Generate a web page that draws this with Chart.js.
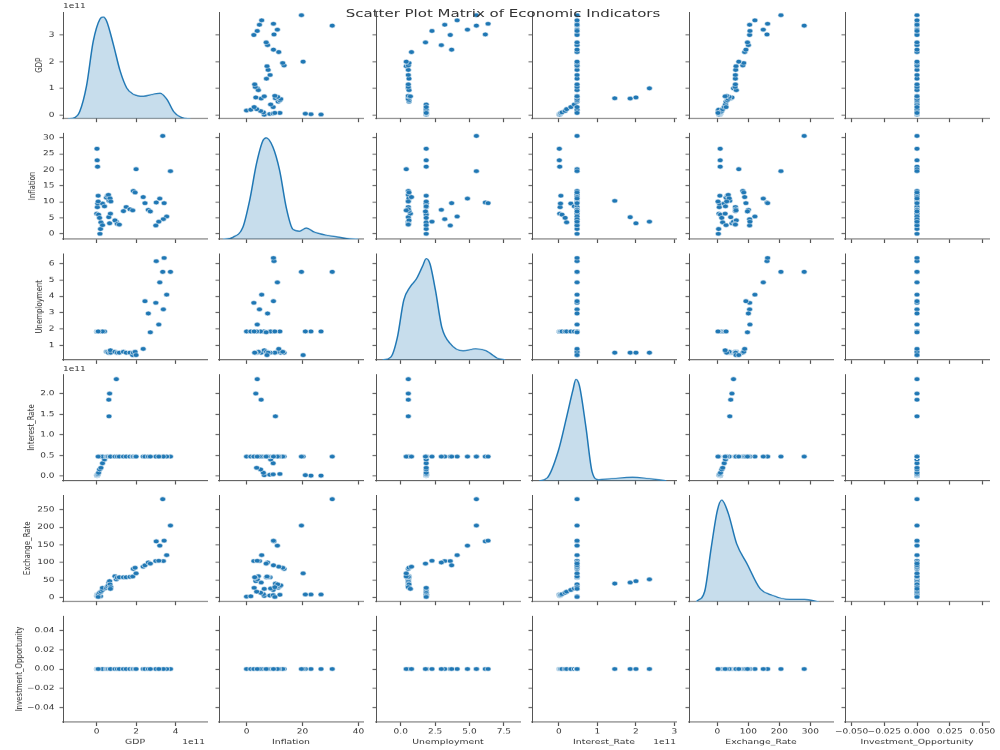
<!DOCTYPE html>
<html><head><meta charset="utf-8">
<script src="https://cdn.jsdelivr.net/npm/chart.js@4.4.0/dist/chart.umd.min.js"></script>
<style>
html,body{margin:0;padding:0;background:#fff;overflow:hidden;width:1000px;height:750px;}
#fig{position:absolute;left:0;top:0;width:1000px;height:1000px;transform:scaleY(0.75);transform-origin:0 0;}
#fig canvas{position:absolute;}
.txt{position:absolute;font-family:"DejaVu Sans",sans-serif;color:#333;white-space:nowrap;}
</style></head><body><div id="fig"></div>
<script>
// ---------------- DATA ----------------
const variables = ['GDP','Inflation','Unemployment','Interest_Rate','Exchange_Rate','Investment_Opportunity'];

const gdp = [0.02e11,0.03e11,0.05e11,0.17e11,0.20e11,0.01e11,0.04e11,0.06e11,0.08e11,0.10e11,0.15e11,0.22e11,0.30e11,0.40e11,0.30e11,0.08e11,
  0.63e11,0.62e11,0.66e11,1.00e11,
  0.50e11,0.55e11,0.60e11,0.68e11,0.72e11,0.70e11,0.93e11,1.05e11,1.15e11,1.36e11,1.50e11,1.69e11,1.83e11,1.86e11,1.95e11,2.00e11,2.36e11,
  3.35e11,3.74e11,3.02e11,3.42e11,3.20e11,3.55e11,3.38e11,3.00e11,3.15e11,2.45e11,2.62e11,2.72e11];
const inflation = [26.6,23.0,21.0,0.0,1.5,6.3,8.3,9.5,11.9,6.0,5.0,3.6,9.5,8.6,2.7,10.1,
  10.3,5.2,3.3,3.8,
  11.3,11.9,12.2,11.1,10.1,6.3,4.2,3.1,2.9,7.1,8.4,7.7,7.3,13.4,12.9,20.2,11.5,
  30.6,19.6,9.8,9.6,11.0,5.4,4.6,2.6,3.8,9.6,7.5,7.0];
const unemployment = [1.85,1.85,1.85,1.85,1.85,1.85,1.85,1.85,1.85,1.85,1.85,1.85,1.85,1.85,1.85,1.85,
  0.55,0.55,0.55,0.55,
  0.6,0.6,0.55,0.6,0.55,0.7,0.6,0.55,0.55,0.6,0.55,0.55,0.4,0.55,0.6,0.4,0.78,
  5.5,5.5,6.15,6.35,4.85,4.1,3.2,3.6,2.27,3.7,2.95,1.8];
const interestRate = [0.01e11,0.01e11,0.02e11,0.47e11,0.47e11,0.02e11,0.03e11,0.04e11,0.05e11,0.08e11,0.16e11,0.20e11,0.31e11,0.40e11,0.47e11,0.47e11,
  1.45e11,1.85e11,2.0e11,2.35e11,
  0.47e11,0.47e11,0.47e11,0.47e11,0.47e11,0.47e11,0.47e11,0.47e11,0.47e11,0.47e11,0.47e11,0.47e11,0.47e11,0.47e11,0.47e11,0.47e11,0.47e11,
  0.47e11,0.47e11,0.47e11,0.47e11,0.47e11,0.47e11,0.47e11,0.47e11,0.47e11,0.47e11,0.47e11,0.47e11];
const exchangeRate = [9,9,9,3,4,5,6,7,8,10,14,17,22,26,28,2,
  40,43,47,52,
  28,32,35,38,30,25,61,57,58,58,58,59,60,82,85,69,88,
  280,205,160,162,148,121,104,104,105,92,100,97];
const investment = [0,0,0,0,0,0,0,0,0,0,0,0,0,0,0,0,
  0,0,0,0,
  0,0,0,0,0,0,0,0,0,0,0,0,0,0,0,0,0,
  0,0,0,0,0,0,0,0,0,0,0,0];

// KDE curves (relative density, peak = 1)
const gdpKdeX = [-1.45e11,-1.1e11,-0.85e11,-0.51e11,-0.17e11,0.17e11,0.34e11,0.51e11,0.85e11,1.19e11,1.53e11,1.86e11,2.37e11,2.88e11,3.22e11,3.56e11,3.9e11,4.32e11,4.75e11];
const gdpKdeY = [0,0.01,0.07,0.32,0.76,0.98,1.0,0.96,0.73,0.47,0.30,0.24,0.22,0.24,0.25,0.19,0.07,0.01,0];
const inflKdeX = [-8.5,-4.9,-1.3,1.07,3.5,5.8,7.0,9.4,11.8,14.2,16.5,18.9,21.3,24.3,28.5,33.2,36.8,40];
const inflKdeY = [0,0.02,0.12,0.38,0.74,0.97,1.0,0.91,0.68,0.31,0.1,0.08,0.11,0.07,0.04,0.02,0.005,0];
const unempKdeX = [-1.32,-0.71,-0.25,0.22,0.68,1.14,1.6,1.85,2.12,2.52,2.99,3.61,4.53,5.45,6.23,7.0,7.6];
const unempKdeY = [0,0.03,0.22,0.59,0.72,0.80,0.93,1.0,0.95,0.69,0.32,0.16,0.09,0.11,0.09,0.02,0];
const irKdeX = [-0.51e11,-0.30e11,-0.02e11,0.20e11,0.36e11,0.44e11,0.53e11,0.70e11,0.86e11,1.03e11,1.36e11,1.91e11,2.35e11,2.79e11];
const irKdeY = [0,0.03,0.29,0.63,0.89,1.0,0.94,0.53,0.09,0.01,0.02,0.035,0.02,0];
const erKdeX = [-68,-41,-20,0,14,35,62,96,137,178,233,281,328];
const erKdeY = [0,0.1,0.53,0.9,1.0,0.87,0.57,0.37,0.13,0.06,0.02,0.02,0];

// tick values and labels
const gdpXTicks = [0,2e11,4e11], gdpXLabels = ['0','2','4'];
const gdpYTicks = [0,1e11,2e11,3e11], gdpYLabels = ['0','1','2','3'];
const inflXTicks = [0,20,40], inflXLabels = ['0','20','40'];
const inflYTicks = [0,5,10,15,20,25,30], inflYLabels = ['0','5','10','15','20','25','30'];
const unempXTicks = [0,2.5,5,7.5], unempXLabels = ['0.0','2.5','5.0','7.5'];
const unempYTicks = [1,2,3,4,5,6], unempYLabels = ['1','2','3','4','5','6'];
const irXTicks = [0,1e11,2e11,3e11], irXLabels = ['0','1','2','3'];
const irYTicks = [0,0.5e11,1e11,1.5e11,2e11], irYLabels = ['0.0','0.5','1.0','1.5','2.0'];
const erXTicks = [0,100,200,300], erXLabels = ['0','100','200','300'];
const erYTicks = [0,50,100,150,200,250], erYLabels = ['0','50','100','150','200','250'];
const invXTicks = [-0.05,-0.025,0,0.025,0.05], invXLabels = ['\u22120.050','\u22120.025','0.000','0.025','0.050'];
const invYTicks = [-0.04,-0.02,0,0.02,0.04], invYLabels = ['\u22120.04','\u22120.02','0.00','0.02','0.04'];

// ---------------- CONFIG ----------------
const cols = [gdp, inflation, unemployment, interestRate, exchangeRate, investment];
const kdeX = [gdpKdeX, inflKdeX, unempKdeX, irKdeX, erKdeX, null];
const kdeY = [gdpKdeY, inflKdeY, unempKdeY, irKdeY, erKdeY, null];
const xTicks = [gdpXTicks, inflXTicks, unempXTicks, irXTicks, erXTicks, invXTicks];
const xLabels = [gdpXLabels, inflXLabels, unempXLabels, irXLabels, erXLabels, invXLabels];
const yTicks = [gdpYTicks, inflYTicks, unempYTicks, irYTicks, erYTicks, invYTicks];
const yLabels = [gdpYLabels, inflYLabels, unempYLabels, irYLabels, erYLabels, invYLabels];
const xRange = [[-1.70e11,5.59e11],[-9.86,41.6],[-1.80,8.67],[-0.70e11,3.04e11],[-91.6,372.9],[-0.055,0.055]];
const yRange = [[-0.13e11,3.86e11],[-1.7,31.6],[0.1,6.62],[-0.115e11,2.47e11],[-11,292],[-0.055,0.055]];

const colLeft = [63, 219, 376, 532, 689, 845];
const rowTop = [16, 177, 338, 499, 660, 821];
const panelW = 144, panelH = 142;
const padL = 60, padT = 14, padR = 36, padB = 40;
const yTitlePad = [30.7, 24.4, 31.4, 23.4, 19.4, 11.4];

const FONT = '"DejaVu Sans", sans-serif';
const TXT = '#333';
const AXC = '#555';
const BLUE = '#1f77b4';

const fig = document.getElementById('fig');
Chart.defaults.font.family = FONT;

function makePanel(r, c) {
  const cv = document.createElement('canvas');
  const W = padL + panelW + padR, H = padT + panelH + padB;
  cv.width = W; cv.height = H;
  cv.style.left = (colLeft[c] - padL) + 'px';
  cv.style.top = (rowTop[r] - padT) + 'px';
  cv.style.width = W + 'px'; cv.style.height = H + 'px';
  fig.appendChild(cv);

  const datasets = [];
  const scales = {
    x: {
      type: 'linear', position: 'bottom', min: xRange[c][0], max: xRange[c][1],
      afterBuildTicks: s => { s.ticks = xTicks[c].map(v => ({value: v})); },
      afterFit: s => { s.height = padB; },
      ticks: { display: r === 5, autoSkip: false, maxRotation: 0, minRotation: 0, padding: 2,
        color: TXT, font: {size: 9, family: FONT}, callback: (v, i) => xLabels[c][i] },
      grid: { display: true, drawOnChartArea: false, drawTicks: true, tickLength: 5, tickColor: AXC, tickWidth: 1.2 },
      border: { display: true, color: AXC, width: 1.3 },
      title: { display: r === 5, text: variables[c], color: TXT, font: {size: 9.3, family: FONT}, padding: {top: 0, bottom: 8} }
    },
    y: {
      type: 'linear', position: 'left', min: yRange[r][0], max: yRange[r][1],
      afterBuildTicks: s => { s.ticks = yTicks[r].map(v => ({value: v})); },
      afterFit: s => { s.width = padL; },
      ticks: { display: c === 0, autoSkip: false, padding: 5,
        color: TXT, font: {size: 9, family: FONT}, callback: (v, i) => yLabels[r][i] },
      grid: { display: true, drawOnChartArea: false, drawTicks: true, tickLength: 3.5, tickColor: AXC, tickWidth: 1.3 },
      border: { display: true, color: AXC, width: 1 },
      title: { display: c === 0, text: variables[r], color: TXT, font: {size: 9.3, family: FONT}, padding: {top: yTitlePad[r], bottom: 0} }
    }
  };

  if (r === c) {
    if (kdeX[c]) {
      datasets.push({
        type: 'line', yAxisID: 'yk',
        data: kdeX[c].map((x, i) => ({x: x, y: kdeY[c][i]})),
        borderColor: BLUE, borderWidth: 1.5, backgroundColor: 'rgba(31,119,180,0.25)',
        fill: 'origin', pointRadius: 0, tension: 0.4, cubicInterpolationMode: 'monotone'
      });
    }
    scales.yk = { type: 'linear', display: false, min: 0, max: 1.05 };
  } else {
    datasets.push({
      type: 'scatter',
      data: cols[c].map((x, i) => ({x: x, y: cols[r][i]})),
      backgroundColor: BLUE, borderColor: '#ffffff', borderWidth: 0.6, pointRadius: 3, pointHoverRadius: 3
    });
  }

  new Chart(cv, {
    type: 'scatter',
    data: { datasets: datasets },
    options: {
      responsive: false, animation: false, devicePixelRatio: 1,
      layout: { padding: { left: 0, top: padT, right: padR, bottom: 0 } },
      plugins: { legend: { display: false }, tooltip: { enabled: false }, title: { display: false } },
      scales: scales
    }
  });
}

for (let r = 0; r < 6; r++) for (let c = 0; c < 6; c++) makePanel(r, c);

function addText(text, left, top, size, align) {
  const d = document.createElement('div');
  d.className = 'txt';
  d.textContent = text;
  d.style.fontSize = size + 'px';
  d.style.lineHeight = Math.round(size * 1.2) + 'px';
  d.style.top = top + 'px';
  if (align === 'center') { d.style.left = left + 'px'; d.style.transform = 'translateX(-50%)'; }
  else if (align === 'right') { d.style.right = (1000 - left) + 'px'; }
  else { d.style.left = left + 'px'; }
  fig.appendChild(d);
}
addText('Scatter Plot Matrix of Economic Indicators', 503, 7.7, 15, 'center');
addText('1e11', 63, 2.5, 9, 'left');
addText('1e11', 63, 486.5, 9, 'left');
addText('1e11', 205, 983.5, 9, 'right');
addText('1e11', 676, 983.5, 9, 'right');
</script>
</body></html>
